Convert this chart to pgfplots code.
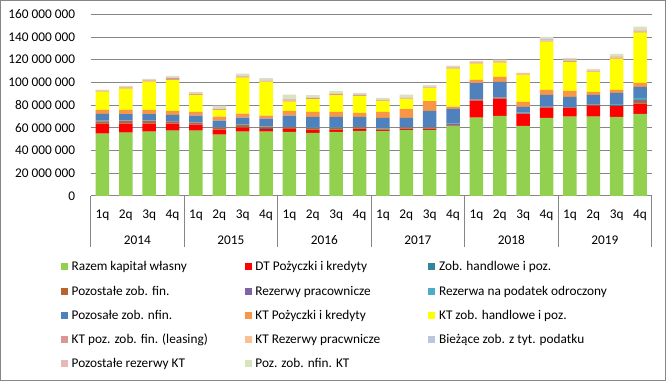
\documentclass[border=0pt]{standalone}
\usepackage{fontspec}
\setmainfont{Carlito}
\usepackage{pgfplots}
\usepackage{pgfplotstable}
\pgfplotsset{compat=1.18}
\definecolor{cG}{HTML}{92D050}
\definecolor{cR}{HTML}{FF0000}
\definecolor{cT1}{HTML}{31859C}
\definecolor{cB}{HTML}{B7652F}
\definecolor{cP}{HTML}{8064A2}
\definecolor{cT2}{HTML}{4BACC6}
\definecolor{cBl}{HTML}{4F81BD}
\definecolor{cO}{HTML}{F79646}
\definecolor{cY}{HTML}{FFFF00}
\definecolor{cPk}{HTML}{D99694}
\definecolor{cS}{HTML}{FAC090}
\definecolor{cL}{HTML}{BBC5E0}
\definecolor{cLP}{HTML}{E6B9B8}
\definecolor{cGG}{HTML}{D7E4BD}
\definecolor{gridc}{RGB}{134,134,134}
% values in millions
\pgfplotstableread{
x G R T1 B P T2 Bl O Y Pk S L LP GG
0 55.0 8.5 0.3 2.0 0.3 0.2 6.0 3.5 16.0 0.6 0.4 0.2 0.2 0.5
1 55.8 7.9 0.3 2.0 0.3 0.2 5.7 3.6 18.7 0.8 0.6 0.2 0.3 0.6
2 56.7 7.0 0.3 2.0 0.3 0.2 5.7 3.6 24.9 0.7 0.6 0.2 0.3 0.6
3 57.5 6.2 0.3 1.5 0.5 0.2 5.2 3.5 27.3 1.5 0.3 0.2 0.2 1.3
4 57.5 5.3 0.2 1.5 0.2 0.2 5.8 3.3 15.0 0.8 0.5 0.2 0.3 0.8
5 54.0 4.4 0.2 1.5 0.2 0.2 5.8 3.6 5.9 0.6 0.6 0.2 0.4 2.0
6 56.7 3.5 0.2 2.1 0.2 0.2 6.1 3.5 31.7 0.6 0.8 0.2 0.3 1.7
7 56.7 2.4 0.8 1.0 0.2 0.2 6.8 2.6 30.0 0.5 0.3 1.0 0.2 1.0
8 56.4 2.5 0.2 1.4 0.2 0.1 9.9 4.3 8.1 0.6 0.8 0.2 0.5 4.1
9 55.6 2.6 0.2 1.4 0.2 0.1 9.5 4.4 11.4 0.7 0.2 0.2 0.2 2.2
10 56.4 1.8 0.2 1.4 0.2 0.1 9.5 4.4 14.9 0.9 0.3 0.3 0.2 1.9
11 57.3 1.8 0.2 1.2 0.2 0.1 8.8 3.5 15.0 0.8 0.4 0.3 0.3 1.0
12 57.3 0.9 0.2 1.0 0.2 0.1 9.0 5.3 9.6 0.6 0.3 0.2 0.2 1.4
13 58.2 0.9 0.2 1.0 0.2 0.1 8.1 7.9 8.8 0.4 0.5 0.2 0.2 2.6
14 58.2 0.9 0.2 1.0 0.2 0.1 14.3 8.7 11.4 0.5 0.4 0.2 0.2 1.4
15 61.8 0.2 0.1 0.3 1.2 0.2 13.0 1.8 33.6 0.8 0.5 0.2 0.3 0.8
16 69.0 15.0 0.1 0.8 0.2 0.1 14.3 2.7 14.4 0.7 0.8 0.2 0.3 0.3
17 70.6 15.0 0.1 1.0 0.2 0.1 13.6 4.3 12.5 0.7 0.6 0.2 0.3 0.8
18 61.7 10.7 0.1 0.3 0.5 0.1 5.0 4.4 23.8 0.3 1.2 0.2 0.2 0.0
19 68.9 8.8 0.1 0.6 0.2 0.1 10.3 4.4 42.5 0.8 0.3 1.5 0.2 1.5
20 69.8 7.9 0.1 0.3 0.1 0.1 9.0 5.3 25.5 0.8 0.5 0.3 0.3 1.7
21 69.8 9.7 0.1 0.6 0.1 0.1 8.7 2.6 17.6 0.5 0.6 0.2 0.2 1.2
22 69.7 9.7 0.3 0.2 0.1 0.8 10.0 2.7 27.3 0.4 1.4 0.2 0.3 2.1
23 72.3 8.8 0.2 2.5 0.9 1.7 9.7 3.6 44.1 0.7 0.9 0.3 0.3 3.1
}\data
\pgfplotsset{
  b/.style={fill=#1, draw=none,
    legend image code/.code={\fill[#1] (0pt,0.5pt) rectangle (7pt,7.5pt);}},
}
\newcommand{\lentry}[1]{\makebox[176.7pt][l]{\hspace{3.7pt}#1}}
\begin{document}
\fontsize{13.3}{16}\selectfont
\begin{tikzpicture}
\useasboundingbox (0,0) rectangle (667pt,382pt);
\draw[color=gridc, line width=1pt] (0.5pt,1.5pt) rectangle (665.5pt,381.5pt);
\begin{axis}[
  at={(90.7pt,186pt)}, anchor=south west,
  scale only axis, width=561pt, height=181.7pt,
  ybar stacked, bar width=13.5pt,
  xmin=-0.5, xmax=23.5, ymin=0, ymax=160,
  xtick={0,...,23},
  xticklabels={1q,2q,3q,4q,1q,2q,3q,4q,1q,2q,3q,4q,1q,2q,3q,4q,1q,2q,3q,4q,1q,2q,3q,4q},
  ytick={0,20,...,160},
  yticklabels={0,20 000 000,40 000 000,60 000 000,80 000 000,100 000 000,120 000 000,140 000 000,160 000 000},
  scaled y ticks=false,
  axis lines*=left,
  y axis line style={draw=none},
  x axis line style={draw=gridc, line width=1pt},
  xtick style={draw=none}, ytick style={draw=none},
  ymajorgrids, grid style={draw=gridc, line width=1pt},
  yticklabel style={anchor=east, inner sep=0pt, xshift=-15.4pt},
  xticklabel style={anchor=center, inner sep=0pt, yshift=-19pt},
  clip=false,
  legend columns=3,
  legend style={at={(-0.0533,-0.3616)}, anchor=north west, draw=none, fill=none,
    inner sep=0pt, row sep=12.2pt, column sep=0pt,
    cells={anchor=base west},
    nodes={inner sep=0pt, text height=9pt, text depth=3pt},
    font=\fontsize{13.3}{16}\selectfont},
]
\addplot[b=cG] table[x=x,y=G]{\data}; \addlegendentry{\lentry{Razem kapitał własny}}
\addplot[b=cR] table[x=x,y=R]{\data}; \addlegendentry{\lentry{DT Pożyczki i kredyty}}
\addplot[b=cT1] table[x=x,y=T1]{\data}; \addlegendentry{\lentry{Zob. handlowe i poz.}}
\addplot[b=cB] table[x=x,y=B]{\data}; \addlegendentry{\lentry{Pozostałe zob. fin.}}
\addplot[b=cP] table[x=x,y=P]{\data}; \addlegendentry{\lentry{Rezerwy pracownicze}}
\addplot[b=cT2] table[x=x,y=T2]{\data}; \addlegendentry{\lentry{Rezerwa na podatek odroczony}}
\addplot[b=cBl] table[x=x,y=Bl]{\data}; \addlegendentry{\lentry{Pozosałe zob. nfin.}}
\addplot[b=cO] table[x=x,y=O]{\data}; \addlegendentry{\lentry{KT Pożyczki i kredyty}}
\addplot[b=cY] table[x=x,y=Y]{\data}; \addlegendentry{\lentry{KT zob. handlowe i poz.}}
\addplot[b=cPk] table[x=x,y=Pk]{\data}; \addlegendentry{\lentry{KT poz. zob. fin. (leasing)}}
\addplot[b=cS] table[x=x,y=S]{\data}; \addlegendentry{\lentry{KT Rezerwy pracwnicze}}
\addplot[b=cL] table[x=x,y=L]{\data}; \addlegendentry{\lentry{Bieżące zob. z tyt. podatku}}
\addplot[b=cLP] table[x=x,y=LP]{\data}; \addlegendentry{\lentry{Pozostałe rezerwy KT}}
\addplot[b=cGG] table[x=x,y=GG]{\data}; \addlegendentry{\lentry{Poz. zob. nfin. KT}}
\pgfplotsinvokeforeach{-0.5,3.5,7.5,11.5,15.5,19.5,23.5}{
  \draw[color=gridc, line width=1pt] (axis cs:#1,0) -- ++(0pt,-51pt);
}
\node[yshift=-44pt] at (axis cs:1.5,0) {2014};
\node[yshift=-44pt] at (axis cs:5.5,0) {2015};
\node[yshift=-44pt] at (axis cs:9.5,0) {2016};
\node[yshift=-44pt] at (axis cs:13.5,0) {2017};
\node[yshift=-44pt] at (axis cs:17.5,0) {2018};
\node[yshift=-44pt] at (axis cs:21.5,0) {2019};
\end{axis}
\end{tikzpicture}
\end{document}
